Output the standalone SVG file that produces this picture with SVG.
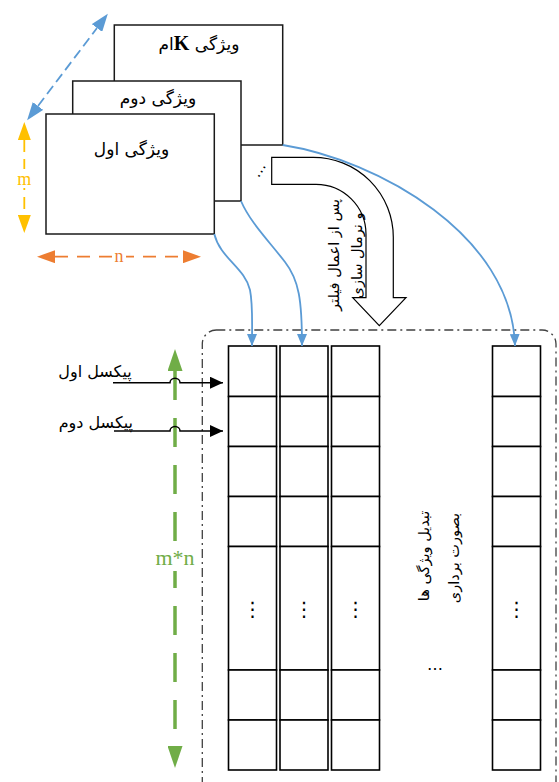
<svg xmlns="http://www.w3.org/2000/svg" width="559" height="782" viewBox="0 0 559 782">
<style>
.box{fill:#fff;stroke:#1a1a1a;stroke-width:1.5}
.cell{fill:#fff;stroke:#000;stroke-width:1.6}
.fa{font-family:"DejaVu Sans",sans-serif;fill:#000}
.lat{font-family:"Liberation Serif",serif}
.blue{fill:none;stroke:#5B9BD5;stroke-width:1.8}
.dots{font-family:"DejaVu Sans",sans-serif;font-size:20px;fill:#000;text-anchor:middle}
</style>
<defs>
<marker id="bh" viewBox="0 0 12 10" refX="12" refY="5" markerWidth="12" markerHeight="10" orient="auto" markerUnits="userSpaceOnUse"><path d="M0,0 L12,5 L0,10 z" fill="#5B9BD5"/></marker>
<marker id="bd" viewBox="0 0 18 13" refX="0" refY="6.5" markerWidth="18" markerHeight="13" orient="auto-start-reverse" markerUnits="userSpaceOnUse"><path d="M0,0 L18,6.5 L0,13 z" fill="#5B9BD5"/></marker>
<marker id="yh" viewBox="0 0 18 13" refX="0" refY="6.5" markerWidth="18" markerHeight="13" orient="auto-start-reverse" markerUnits="userSpaceOnUse"><path d="M0,0 L18,6.5 L0,13 z" fill="#FFC000"/></marker>
<marker id="oh" viewBox="0 0 18 13" refX="0" refY="6.5" markerWidth="18" markerHeight="13" orient="auto-start-reverse" markerUnits="userSpaceOnUse"><path d="M0,0 L18,6.5 L0,13 z" fill="#ED7D31"/></marker>
<marker id="gh" viewBox="0 0 22 15" refX="0" refY="7.5" markerWidth="22" markerHeight="15" orient="auto-start-reverse" markerUnits="userSpaceOnUse"><path d="M0,0 L22,7.5 L0,15 z" fill="#70AD47"/></marker>
<marker id="kh" viewBox="0 0 13 12" refX="13" refY="6" markerWidth="13" markerHeight="12" orient="auto" markerUnits="userSpaceOnUse"><path d="M0,0 L13,6 L0,12 z" fill="#000"/></marker>
</defs>

<!-- container -->
<g id="container">
<rect x="202.3" y="330" width="353.7" height="470" rx="14" ry="14" fill="none" stroke="#404040" stroke-width="1.3" stroke-dasharray="9 4 2 4"/>
</g>

<!-- feature maps -->
<g id="featK">
<rect class="box" x="114.3" y="25" width="168.4" height="120"/>
<text class="fa" x="199" y="50" font-size="17" text-anchor="middle" direction="rtl" style="direction:rtl;unicode-bidi:embed">ویژگی <tspan class="lat" font-size="20" font-weight="bold">K</tspan>ام</text>
</g>
<g id="feat2">
<rect class="box" x="72.7" y="81" width="168.3" height="120"/>
<text class="fa" x="158" y="104" font-size="17" text-anchor="middle">ویژگی دوم</text>
</g>
<g id="feat1">
<rect class="box" x="46" y="114" width="168.3" height="120"/>
<text class="fa" x="131.5" y="155" font-size="17" text-anchor="middle">ویژگی اول</text>
</g>
<g id="moreFeat">
<text class="fa" x="259" y="174" font-size="15" text-anchor="middle" transform="rotate(-58 259 170)">…</text>
</g>

<!-- big curved arrow -->
<g id="filterArrow">
<path d="M271.7,157.3 H313 A80,80 0 0 1 393.3,237.3 V297.7 H406 L379.3,325.7 L352.7,297.7 H366 V234 A50,50 0 0 0 316,184.3 H271.7 Z" fill="#fff" stroke="#000" stroke-width="1.2"/>
<text class="fa" font-size="14.5" text-anchor="middle" transform="translate(339,255) rotate(-90)">پس از اعمال فیلتر</text>
<text class="fa" font-size="14.5" text-anchor="middle" transform="translate(362,255.5) rotate(-90)">و نرمال سازی</text>
</g>

<!-- vector columns -->
<g id="col1">
<rect class="cell" x="228.5" y="346" width="48" height="50.5"/>
<rect class="cell" x="228.5" y="396.5" width="48" height="50"/>
<rect class="cell" x="228.5" y="446.5" width="48" height="50"/>
<rect class="cell" x="228.5" y="496.5" width="48" height="50"/>
<rect class="cell" x="228.5" y="546.5" width="48" height="123.5"/>
<rect class="cell" x="228.5" y="670" width="48" height="50"/>
<rect class="cell" x="228.5" y="720" width="48" height="50"/>
<text class="dots" x="252.5" y="616">⋮</text>
</g>
<g id="col2">
<rect class="cell" x="280" y="346" width="48" height="50.5"/>
<rect class="cell" x="280" y="396.5" width="48" height="50"/>
<rect class="cell" x="280" y="446.5" width="48" height="50"/>
<rect class="cell" x="280" y="496.5" width="48" height="50"/>
<rect class="cell" x="280" y="546.5" width="48" height="123.5"/>
<rect class="cell" x="280" y="670" width="48" height="50"/>
<rect class="cell" x="280" y="720" width="48" height="50"/>
<text class="dots" x="304" y="616">⋮</text>
</g>
<g id="col3">
<rect class="cell" x="331.5" y="346" width="48" height="50.5"/>
<rect class="cell" x="331.5" y="396.5" width="48" height="50"/>
<rect class="cell" x="331.5" y="446.5" width="48" height="50"/>
<rect class="cell" x="331.5" y="496.5" width="48" height="50"/>
<rect class="cell" x="331.5" y="546.5" width="48" height="123.5"/>
<rect class="cell" x="331.5" y="670" width="48" height="50"/>
<rect class="cell" x="331.5" y="720" width="48" height="50"/>
<text class="dots" x="355.5" y="616">⋮</text>
</g>
<g id="colK">
<rect class="cell" x="492.5" y="346" width="48" height="50.5"/>
<rect class="cell" x="492.5" y="396.5" width="48" height="50"/>
<rect class="cell" x="492.5" y="446.5" width="48" height="50"/>
<rect class="cell" x="492.5" y="496.5" width="48" height="50"/>
<rect class="cell" x="492.5" y="546.5" width="48" height="123.5"/>
<rect class="cell" x="492.5" y="670" width="48" height="50"/>
<rect class="cell" x="492.5" y="720" width="48" height="50"/>
<text class="dots" x="516.5" y="616">⋮</text>
</g>
<g id="moreCols">
<text class="fa" x="435" y="670" font-size="16" text-anchor="middle">…</text>
</g>
<g id="vecLabel">
<text class="fa" font-size="14.5" text-anchor="middle" transform="translate(429,556) rotate(-90)">تبدیل ویژگی ها</text>
<text class="fa" font-size="14.5" text-anchor="middle" transform="translate(459,558) rotate(-90)">بصورت برداری</text>
</g>

<!-- connectors -->
<g id="connectors">
<path class="blue" d="M214.3,234 C220,258 245,268 250,290 C253,305 252,320 252,346" marker-end="url(#bh)"/>
<path class="blue" d="M241,201 C250,222 268,240 285,262 C299,280 302,300 302,346" marker-end="url(#bh)"/>
<path class="blue" d="M282.7,145 C378,160 512,235 515,346" marker-end="url(#bh)"/>
<line x1="38" y1="106" x2="97" y2="28" stroke="#5B9BD5" stroke-width="1.8" stroke-dasharray="10 5" marker-start="url(#bd)" marker-end="url(#bd)"/>
<line x1="24.3" y1="140" x2="24.3" y2="215" stroke="#FFC000" stroke-width="1.8" stroke-dasharray="12 7" marker-start="url(#yh)" marker-end="url(#yh)"/>
<line x1="55" y1="256.7" x2="183" y2="256.7" stroke="#ED7D31" stroke-width="1.8" stroke-dasharray="13 9" marker-start="url(#oh)" marker-end="url(#oh)"/>
<line x1="175" y1="371" x2="175" y2="746" stroke="#70AD47" stroke-width="3.5" stroke-dasharray="29 18" marker-start="url(#gh)" marker-end="url(#gh)"/>
<path d="M113,382.7 H170 A5,4.5 0 0 1 180,382.7 H223" fill="none" stroke="#000" stroke-width="1.5" marker-end="url(#kh)"/>
<path d="M114,431 H170 A5,4.5 0 0 1 180,431 H223" fill="none" stroke="#000" stroke-width="1.5" marker-end="url(#kh)"/>
</g>

<!-- dimension labels -->
<g id="labels">
<rect x="17" y="169" width="15" height="19" fill="#fff"/>
<text class="lat" x="24.3" y="185" font-size="18" fill="#FFC000" text-anchor="middle">m</text>
<rect x="112" y="248" width="14" height="17" fill="#fff"/>
<text class="lat" x="119" y="262" font-size="18" fill="#ED7D31" text-anchor="middle">n</text>
<rect x="158" y="545" width="34" height="26" fill="#fff"/>
<text class="lat" x="175" y="565" font-size="22" fill="#70AD47" text-anchor="middle">m*n</text>
<text class="fa" x="131.7" y="377" font-size="16" text-anchor="end">پیکسل اول</text>
<text class="fa" x="133" y="428" font-size="16" text-anchor="end">پیکسل دوم</text>
</g>
</svg>
